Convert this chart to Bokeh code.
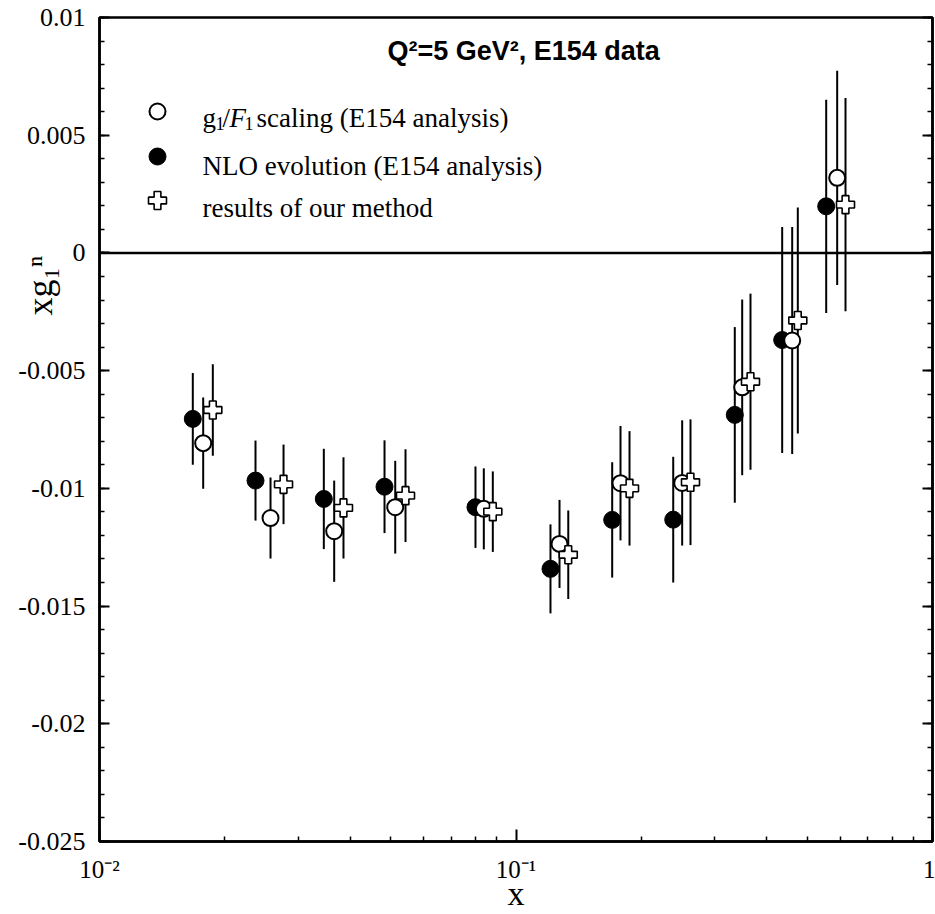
import math
from bokeh.plotting import figure
from bokeh.models import (Range1d, FixedTicker, CustomJSTickFormatter, LinearAxis,
                          Span, Label, ColumnDataSource)
from bokeh.embed import file_html
from bokeh.resources import INLINE

# ---------------- data ----------------
# g1/F1 scaling (E154 analysis) -- open circles
x_g1f1 = [0.01774, 0.02574, 0.03660, 0.05129, 0.08370, 0.1272, 0.1782, 0.2506, 0.3492, 0.4604, 0.5904]
y_g1f1 = [-0.00808, -0.01126, -0.01182, -0.01080, -0.01087, -0.01236, -0.00978, -0.00977, -0.00571, -0.00372, 0.00319]
e_g1f1 = [0.00194, 0.00172, 0.00215, 0.00197, 0.00172, 0.00187, 0.00243, 0.00266, 0.00373, 0.00482, 0.00455]

# NLO evolution (E154 analysis) -- filled circles
x_nlo = [0.01675, 0.02369, 0.03456, 0.04834, 0.07993, 0.1210, 0.1702, 0.2385, 0.3352, 0.4356, 0.5556]
y_nlo = [-0.00705, -0.00967, -0.01045, -0.00993, -0.01080, -0.01342, -0.01134, -0.01133, -0.00688, -0.00370, 0.00198]
e_nlo = [0.00195, 0.00170, 0.00213, 0.00197, 0.00173, 0.00189, 0.00245, 0.00267, 0.00373, 0.00480, 0.00453]

# results of our method -- open crosses
x_ours = [0.01871, 0.02766, 0.03853, 0.05429, 0.08797, 0.1335, 0.1873, 0.2624, 0.3656, 0.4749, 0.6182]
y_ours = [-0.00667, -0.00983, -0.01083, -0.01031, -0.01099, -0.01282, -0.01000, -0.00974, -0.00547, -0.00287, 0.00205]
e_ours = [0.00194, 0.00169, 0.00215, 0.00197, 0.00171, 0.00188, 0.00243, 0.00267, 0.00374, 0.00480, 0.00453]

y_ticks = [0.01, 0.005, 0.0, -0.005, -0.01, -0.015, -0.02, -0.025]
y_tick_labels = ["0.01", "0.005", "0", "-0.005", "-0.01", "-0.015", "-0.02", "-0.025"]
x_tick_values = [0.01, 0.1, 1.0]
x_tick_labels = ["10\u207b\u00b2", "10\u207b\u00b9", "1"]

title_text = "Q\u00b2=5 GeV\u00b2, E154 data"
legend_texts = ["scaling (E154 analysis)", "NLO evolution (E154 analysis)", "results of our method"]
x_label = "x"
y_label = "xg\u2081\u207f"

# ---------------- layout helpers ----------------
X_MIN, X_MAX = 0.01, 1.0
Y_MIN, Y_MAX = -0.025, 0.01
FRAME_L, FRAME_R, FRAME_T, FRAME_B = 99, 932, 17, 841   # page pixels of the frame
W, H = 935, 914


def px2x(px):
    return X_MIN * (X_MAX / X_MIN) ** ((px - FRAME_L) / (FRAME_R - FRAME_L))


def px2y(py):
    return Y_MAX - (Y_MAX - Y_MIN) * (py - FRAME_T) / (FRAME_B - FRAME_T)


SERIF = "Liberation Serif"
SANS = "Liberation Sans"

p = figure(width=W, height=H, x_axis_type="log",
           x_range=Range1d(X_MIN, X_MAX), y_range=Range1d(Y_MIN, Y_MAX),
           output_backend="svg", toolbar_location=None,
           min_border_left=FRAME_L, min_border_right=W - FRAME_R,
           min_border_top=FRAME_T, min_border_bottom=H - FRAME_B)
p.xgrid.visible = False
p.ygrid.visible = False
p.outline_line_color = "black"
p.outline_line_width = 2.5
p.background_fill_color = "white"
p.border_fill_color = "white"

# x axis
xa = p.xaxis[0]
xa.ticker = FixedTicker(ticks=x_tick_values,
                        minor_ticks=[m * 10 ** e for e in (-2, -1) for m in range(2, 10)])
xa.formatter = CustomJSTickFormatter(
    args=dict(tvals=x_tick_values, tlabels=x_tick_labels),
    code="const i = tvals.findIndex(t => Math.abs(t / tick - 1) < 1e-9);"
         " return i >= 0 ? tlabels[i] : '';")
xa.major_label_text_font = SERIF
xa.major_label_text_font_size = "25px"
xa.major_label_text_color = "black"
xa.major_label_standoff = 14
xa.major_tick_in = 12
xa.major_tick_out = 0
xa.minor_tick_in = 5
xa.minor_tick_out = 0
xa.axis_line_width = 2.5
xa.major_tick_line_width = 2
xa.minor_tick_line_width = 1.5
xa.axis_label = x_label
xa.axis_label_text_font = SERIF
xa.axis_label_text_font_style = "normal"
xa.axis_label_text_font_size = "34px"
xa.axis_label_text_color = "black"
xa.axis_label_standoff = -11

# y axis
minor_y = [round(Y_MIN + 0.001 * i, 3) for i in range(36)]
ya = p.yaxis[0]
ya.ticker = FixedTicker(ticks=y_ticks, minor_ticks=minor_y)
ya.formatter = CustomJSTickFormatter(
    args=dict(tvals=y_ticks, tlabels=y_tick_labels),
    code="const i = tvals.findIndex(t => Math.abs(t - tick) < 1e-9); return i >= 0 ? tlabels[i] : '';")
ya.major_label_text_font = SERIF
ya.major_label_text_font_size = "26px"
ya.major_label_text_color = "black"
ya.major_label_standoff = 14
ya.major_tick_in = 10
ya.major_tick_out = 0
ya.minor_tick_in = 5
ya.minor_tick_out = 0
ya.axis_line_width = 2.5
ya.major_tick_line_width = 2
ya.minor_tick_line_width = 1.5
# axis title: Bokeh centres it on the frame, so leading no-break spaces lift it
# to where the reference shows it; a negative standoff tucks it beside the tick labels
ya.axis_label = "\u00a0" * 32 + y_label
ya.axis_label_text_font = SERIF
ya.axis_label_text_font_style = "normal"
ya.axis_label_text_font_size = "36px"
ya.axis_label_text_color = "black"
ya.axis_label_standoff = -45

# mirrored right axis (ticks only)
ra = LinearAxis(ticker=FixedTicker(ticks=y_ticks, minor_ticks=minor_y),
                formatter=CustomJSTickFormatter(code="return ''"),
                major_tick_in=10, major_tick_out=0, minor_tick_in=5, minor_tick_out=0,
                major_label_standoff=0, axis_line_width=2.5,
                major_tick_line_width=2, minor_tick_line_width=1.5)
p.add_layout(ra, "right")

# zero line
p.add_layout(Span(location=0, dimension="width", line_color="black", line_width=2.5))

# error bars
for xs, ys, es in ((x_nlo, y_nlo, e_nlo), (x_g1f1, y_g1f1, e_g1f1), (x_ours, y_ours, e_ours)):
    src = ColumnDataSource(dict(x=xs, lo=[y - e for y, e in zip(ys, es)], hi=[y + e for y, e in zip(ys, es)]))
    p.segment(x0="x", y0="lo", x1="x", y1="hi", source=src, line_color="black", line_width=2)

# markers
p.scatter(x_nlo, y_nlo, marker="circle", size=17, fill_color="black", line_color="black", line_width=1)
p.scatter(x_g1f1, y_g1f1, marker="circle", size=16, fill_color="white", line_color="black", line_width=2)
p.scatter(x_ours, y_ours, marker="plus", size=18, fill_color="white", line_color="black", line_width=1.6)


# ---------------- texts inside the frame ----------------
def lab(xp, yp, text, size, font=SERIF, style="normal", align="left"):
    p.add_layout(Label(x=px2x(xp), y=px2y(yp), text=text, text_font=font,
                       text_font_size=f"{size}px", text_font_style=style,
                       text_align=align, text_baseline="alphabetic",
                       text_color="black"))


# title
lab(387, 50, title_text, 27, font=SANS, style="bold")

# legend markers
p.scatter([px2x(157)], [px2y(111)], marker="circle", size=16, fill_color="white", line_color="black", line_width=2)
p.scatter([px2x(157)], [px2y(156)], marker="circle", size=17, fill_color="black", line_color="black")
p.scatter([px2x(157)], [px2y(200)], marker="plus", size=18, fill_color="white", line_color="black", line_width=1.6)

# legend texts (first one composed: g1/F1 with subscripts)
lab(202, 117, "g", 27)
lab(215, 123, "1", 18)
lab(222, 117, "/", 27)
lab(229, 117, "F", 27, style="italic")
lab(244, 123, "1", 18)
lab(256, 117, legend_texts[0], 27)
lab(202, 165, legend_texts[1], 27)
lab(202, 207, legend_texts[2], 27)

open("out.html", "w").write(file_html(p, INLINE))
